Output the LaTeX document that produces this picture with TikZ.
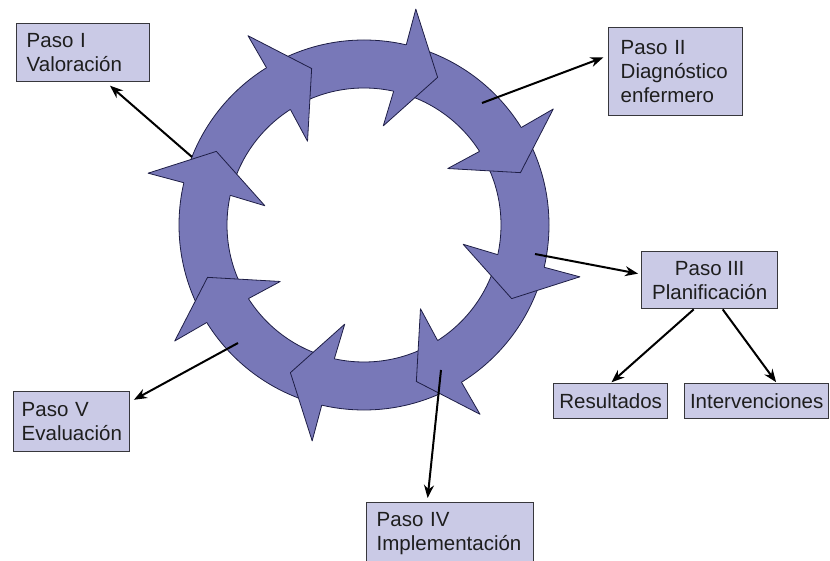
\documentclass[tikz,border=0pt]{standalone}
\usepackage{fontspec}
\setmainfont{Liberation Sans}
\usetikzlibrary{calc,arrows.meta}
\definecolor{ringfill}{RGB}{120,120,184}
\definecolor{ringline}{RGB}{30,30,70}
\definecolor{boxfill}{RGB}{202,202,230}
\definecolor{boxline}{RGB}{55,55,60}
\definecolor{textcol}{RGB}{30,30,30}
\begin{document}
\begin{tikzpicture}[
      x=1pt, y=-1pt,
      ring/.style={fill=ringfill, draw=ringline, line width=0.8pt},
      paso/.style={draw=boxline, fill=boxfill, line width=1.4pt, text=textcol,
        font=\fontsize{20.5}{24}\selectfont, anchor=north west, inner ysep=0pt},
      conn/.style={draw, line width=2pt, -{Stealth[length=13pt,width=10pt]}}
      ]
      \useasboundingbox (0,0) rectangle (830,561);
      \coordinate (C) at (364,225);
      \path[ring, even odd rule] (C) circle (185pt) (C) circle (137pt);
      \foreach \b in {166.5,121.5,76.5,31.5,-13.5,-58.5,-103.5,-148.5} {
        \fill[ringfill] ($(C)+(\b+0.3:185pt)$) -- ($(C)+(\b:222pt)$)
          -- ($(C)+(\b-13:165pt)$) -- ($(C)+(\b+2.5:101pt)$)
          -- ($(C)+(\b+1:137pt)$) -- cycle;
        \draw[ringline, line width=0.8pt, line join=round]
          ($(C)+(\b+0.3:185pt)$) -- ($(C)+(\b:222pt)$)
          -- ($(C)+(\b-13:165pt)$) -- ($(C)+(\b+2.5:101pt)$)
          -- ($(C)+(\b+1:137pt)$);
      }
      \node[paso, align=left, text width=113pt, inner xsep=10pt, minimum height=58pt] (paso1) at (16,23) {Paso I\\Valoración};
      \node[paso, align=left, text width=110pt, inner xsep=12pt, minimum height=88pt] (paso2) at (608,27) {Paso II\\Diagnóstico\\enfermero};
      \node[paso, align=center, minimum width=136pt, minimum height=57pt] (paso3) at (641,251) {Paso III\\Planificación};
      \node[paso, align=center, minimum width=114pt, minimum height=35pt] (result) at (553,383) {Resultados};
      \node[paso, align=center, minimum width=144pt, minimum height=35pt] (interv) at (684,383) {Intervenciones};
      \node[paso, align=left, text width=147pt, inner xsep=10pt, minimum height=62pt] (paso4) at (366,502) {Paso IV\\Implementación};
      \node[paso, align=left, text width=100pt, inner xsep=8pt, minimum height=60pt] (paso5) at (13,391) {Paso V\\Evaluación};
      \coordinate (s1) at (192,157);
      \coordinate (s2) at (482,103);
      \coordinate (s3) at (535,254);
      \coordinate (s4) at (441,370);
      \coordinate (s5) at (238,343);
      \draw[conn, shorten >=5pt] (s1) -- ([xshift=23pt]paso1.south);
      \draw[conn, shorten >=5pt] (s2) -- ([yshift=16pt]paso2.west);
      \draw[conn, shorten >=3pt] (s3) -- ([yshift=6pt]paso3.west);
      \draw[conn, shorten >=1pt] ([xshift=-16pt]paso3.south) -- (result.north);
      \draw[conn, shorten >=1pt] ([xshift=13pt]paso3.south) -- ([xshift=20pt]interv.north);
      \draw[conn, shorten >=4pt] (s4) -- ([xshift=-23pt]paso4.north);
      \draw[conn, shorten >=4pt] (s5) -- ([yshift=20pt]paso5.east);
\end{tikzpicture}
\end{document}
